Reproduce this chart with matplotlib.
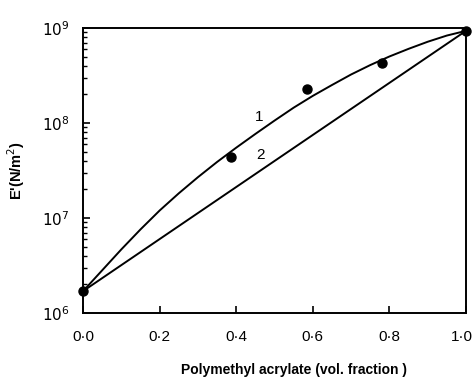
import matplotlib
matplotlib.use('Agg')
import matplotlib.pyplot as plt
import matplotlib.transforms as mtransforms
import numpy as np
from matplotlib.ticker import FixedLocator, FixedFormatter, LogLocator, NullFormatter

plt.rcParams['font.family'] = ['Liberation Sans', 'DejaVu Sans']

# measured points
pts_x = [0.0, 0.386, 0.584, 0.781, 1.0]
pts_y = [1.7e6, 4.4e7, 2.3e8, 4.3e8, 9.3e8]

# curve 1
c1_x = [0.0, 0.05, 0.1, 0.15, 0.2, 0.25, 0.3, 0.35, 0.4, 0.45, 0.5,
        0.55, 0.6, 0.65, 0.7, 0.75, 0.8, 0.85, 0.9, 0.95, 1.0]
c1_y = [1.70e6, 2.82e6, 4.68e6, 7.59e6, 1.20e7, 1.82e7, 2.69e7, 3.89e7, 5.50e7, 7.67e7, 1.06e8,
        1.45e8, 1.93e8, 2.51e8, 3.24e8, 4.07e8, 5.01e8, 6.03e8, 7.16e8, 8.32e8, 9.33e8]

# curve 2 (straight on log scale)
c2_x = [0.0, 1.0]
c2_y = [1.7e6, 9.33e8]

xticks = [0.0, 0.2, 0.4, 0.6, 0.8, 1.0]
xtick_labels = ['0·0', '0·2', '0·4', '0·6', '0·8', '1·0']

fig = plt.figure(figsize=(4.75, 3.78), dpi=100, facecolor='w')
ax = fig.add_axes([0.175, 0.172, 0.806, 0.754])

ax.plot(c1_x, c1_y, color='k', lw=1.4)
ax.plot(c2_x, c2_y, color='k', lw=1.4)
ax.plot(pts_x, pts_y, 'o', color='k', ms=6.5, clip_on=False, zorder=5)

ax.text(0.46, 1.15e8, '1', fontsize=11, ha='center', va='center')
ax.text(0.464, 4.6e7, '2', fontsize=11, ha='center', va='center')

ax.set_yscale('log')
ax.set_xlim(0, 1)
ax.set_ylim(1e6, 1e9)

ax.xaxis.set_major_locator(FixedLocator(xticks))
ax.xaxis.set_major_formatter(FixedFormatter(xtick_labels))
ax.yaxis.set_major_locator(FixedLocator([1e6, 1e7, 1e8, 1e9]))
ax.yaxis.set_major_formatter(FixedFormatter(['$10^{6}$', '$10^{7}$', '$10^{8}$', '$10^{9}$']))
ax.yaxis.set_minor_locator(LogLocator(base=10, subs=np.arange(2, 10)))
ax.yaxis.set_minor_formatter(NullFormatter())

ax.tick_params(axis='both', which='major', direction='in', length=5, width=1.2)
ax.tick_params(axis='x', labelsize=11, pad=12)
ax.tick_params(axis='y', labelsize=11, pad=10)
ax.tick_params(axis='y', which='minor', direction='in', length=3, width=1.0)
for s in ax.spines.values():
    s.set_linewidth(1.4)

# nudge the last x label so it stays inside the figure
last = ax.xaxis.get_major_ticks()[-1].label1
last.set_transform(last.get_transform() + mtransforms.ScaledTranslation(-3 / 72, 0, fig.dpi_scale_trans))

ax.set_xlabel('Polymethyl acrylate (vol. fraction )', fontsize=10, fontweight='bold')
ax.xaxis.set_label_coords(0.55, -0.175)
ax.set_ylabel("E'(N/m$^{2}$)", fontsize=10.5, fontweight='bold')
ax.yaxis.set_label_coords(-0.146, 0.5)

fig.savefig('out.png', dpi=100)
